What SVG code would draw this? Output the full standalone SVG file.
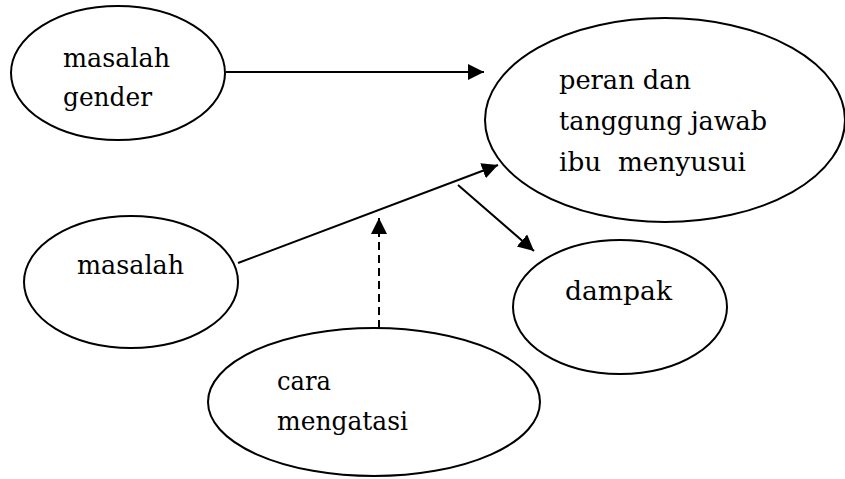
<svg xmlns="http://www.w3.org/2000/svg" width="845" height="479" viewBox="0 0 845 479">
<style>
.node ellipse{fill:#fff;stroke:#000;stroke-width:2}
.node text{font-family:"DejaVu Serif",serif;font-size:26px;fill:#000}
.edge{stroke:#000;stroke-width:2;fill:none}
.dash{stroke-dasharray:8 5}
</style>
<defs>
<marker id="ah" markerUnits="userSpaceOnUse" markerWidth="17" markerHeight="17" refX="16" refY="8" orient="auto" viewBox="0 0 17 17">
<path d="M0,0 L16,8 L0,16 z" fill="#000"/>
</marker>
<clipPath id="clipG"><rect x="0" y="0" width="300" height="111"/></clipPath>
</defs>
<rect width="845" height="479" fill="#fff"/>
<g id="connectors">
<line class="edge" x1="226" y1="72" x2="484" y2="72" marker-end="url(#ah)"/>
<line class="edge" x1="238" y1="263" x2="498" y2="165" marker-end="url(#ah)"/>
<line class="edge dash" x1="379" y1="328" x2="379" y2="218" marker-end="url(#ah)"/>
<line class="edge" x1="458" y1="185" x2="534" y2="251" marker-end="url(#ah)"/>
</g>
<g id="node-masalah-gender" class="node">
<ellipse cx="118" cy="73" rx="107" ry="67"/>
<g clip-path="url(#clipG)">
<text x="63" y="67" textLength="107" lengthAdjust="spacingAndGlyphs">masalah</text>
<text x="63" y="106" textLength="89" lengthAdjust="spacingAndGlyphs">gender</text>
</g>
</g>
<g id="node-peran" class="node">
<ellipse cx="665" cy="120" rx="180" ry="102"/>
<text x="559" y="89" textLength="132" lengthAdjust="spacingAndGlyphs">peran dan</text>
<text x="559" y="130" textLength="208" lengthAdjust="spacingAndGlyphs">tanggung jawab</text>
<text x="559" y="171" textLength="187" lengthAdjust="spacingAndGlyphs" xml:space="preserve">ibu  menyusui</text>
</g>
<g id="node-masalah" class="node">
<ellipse cx="131" cy="282" rx="107" ry="66"/>
<text x="77" y="274" textLength="107" lengthAdjust="spacingAndGlyphs">masalah</text>
</g>
<g id="node-dampak" class="node">
<ellipse cx="620" cy="307" rx="107" ry="67"/>
<text x="565" y="300" textLength="107" lengthAdjust="spacingAndGlyphs">dampak</text>
</g>
<g id="node-cara" class="node">
<ellipse cx="374" cy="402" rx="166" ry="74"/>
<text x="277" y="390" textLength="54" lengthAdjust="spacingAndGlyphs">cara</text>
<text x="277" y="430" textLength="131" lengthAdjust="spacingAndGlyphs">mengatasi</text>
</g>
</svg>
